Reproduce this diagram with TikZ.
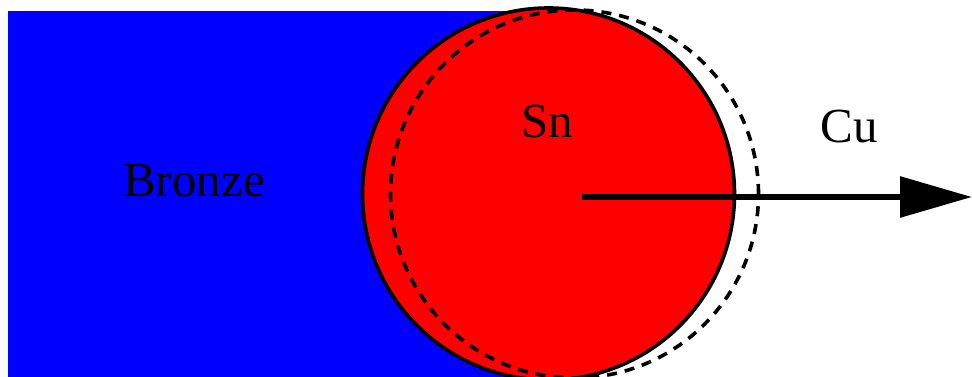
\documentclass[tikz,border=0pt]{standalone}
\usepackage{fontspec}
\setmainfont{Liberation Serif}
\usetikzlibrary{arrows.meta}
\begin{document}
\begin{tikzpicture}[x=1pt,y=1pt,
  lbl/.style={font=\fontsize{49}{52}\selectfont, anchor=base, inner sep=0},
  ballstyle/.style={circle, inner sep=0, minimum size=#1},
]
\useasboundingbox (0,0) rectangle (972,377);
\fill[fill={rgb,255:red,0;green,0;blue,255}] (8,0) rectangle (548.5,366);
\node[ballstyle=372pt, fill={rgb,255:red,255;green,0;blue,0}, draw=black, line width=3.6pt] (sn) at (548.5,183) {};
\node[ballstyle=368pt, draw=black, line width=3.6pt, dash pattern=on 10pt off 8pt] (cu) at (574.5,183) {};
\coordinate (start) at (582,180);
\coordinate (tip) at (972,180);
\draw[line width=6pt, -{Triangle[length=72pt,width=40pt]}] (start) -- (tip);
\node[lbl] (bronze) at (194,180) {Bronze};
\node[lbl] (snl) at (547,239) {Sn};
\node[lbl] (cul) at (849,234) {Cu};
\end{tikzpicture}
\end{document}
